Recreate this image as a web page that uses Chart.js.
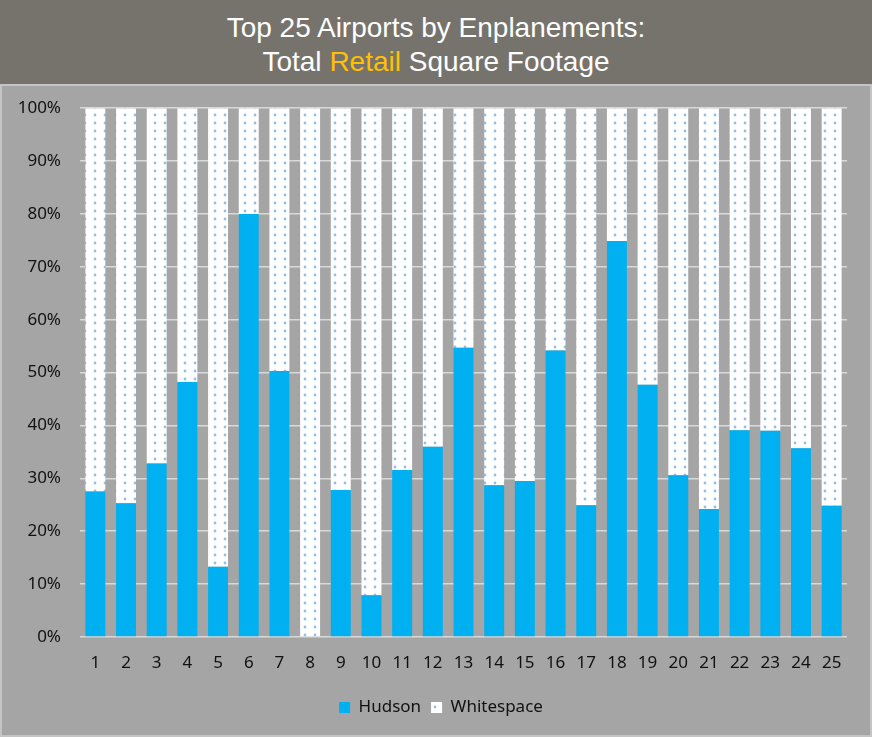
<!DOCTYPE html>
<html>
<head>
<meta charset="utf-8">
<script src="https://cdn.jsdelivr.net/npm/chart.js@4"></script>
<style>
  body { margin: 0; width: 872px; height: 737px; overflow: hidden; font-family: "Liberation Sans", Arial, sans-serif; }
  #header {
    position: absolute; left: 0; top: 0; width: 872px; height: 84px;
    background: #76736d; color: #fff; text-align: center;
    font-size: 28px; line-height: 34px; padding-top: 11px; box-sizing: border-box;
  }
  #header .hl { color: #ffc000; }
  #panel {
    position: absolute; left: 0; top: 84px; width: 872px; height: 653px;
    background: #a5a5a5; border: 2px solid #c4c4c4; box-sizing: border-box;
  }
  #chart { position: absolute; left: 0; top: 79px; }
</style>
</head>
<body>
<div id="header">Top 25 Airports by Enplanements:<br>Total <span class="hl">Retail</span> Square Footage</div>
<div id="panel"></div>
<canvas id="chart" width="872" height="658"></canvas>
<script>
// Airport rank 1..25 and the Hudson share of retail space (percent)
const airports = ['1','2','3','4','5','6','7','8','9','10','11','12','13','14','15','16','17','18','19','20','21','22','23','24','25'];
const hudsonShare = [27.5, 25.3, 32.8, 48.2, 13.3, 80.0, 50.3, 0, 27.8, 7.9, 31.6, 36.0, 54.7, 28.7, 29.5, 54.2, 24.9, 74.9, 47.7, 30.6, 24.2, 39.1, 39.0, 35.7, 24.8];
const whitespaceShare = [72.5, 74.7, 67.2, 51.8, 86.7, 20.0, 49.7, 100, 72.2, 92.1, 68.4, 64.0, 45.3, 71.3, 70.5, 45.8, 75.1, 25.1, 52.3, 69.4, 75.8, 60.9, 61.0, 64.3, 75.2];
const yTicks = [0, 10, 20, 30, 40, 50, 60, 70, 80, 90, 100];

// white fill with small blue dots for the whitespace part
function dotPattern() {
  const c = document.createElement('canvas');
  c.width = 10; c.height = 8;
  const g = c.getContext('2d');
  g.fillStyle = '#ffffff';
  g.fillRect(0, 0, 10, 8);
  g.fillStyle = '#95bfe8';
  g.beginPath();
  g.arc(5, 4, 1.4, 0, Math.PI * 2);
  g.fill();
  return g.createPattern(c, 'repeat');
}

// nudge the legend a little to the right of the canvas centre
const legendShift = {
  id: 'legendShift',
  afterLayout(chart) {
    if (chart.legend) chart.legend.left += 35;
  },
};

const tickFont = { family: '"Noto Sans", sans-serif', size: 17 };

new Chart(document.getElementById('chart'), {
  type: 'bar',
  data: {
    labels: airports,
    datasets: [
      { label: 'Hudson', data: hudsonShare, backgroundColor: '#00b0f0', borderWidth: 0 },
      { label: 'Whitespace', data: whitespaceShare, backgroundColor: dotPattern(), borderWidth: 0 },
    ],
  },
  plugins: [legendShift],
  options: {
    responsive: false,
    animation: false,
    layout: { padding: { top: 19, right: 25, bottom: 11, left: 0 } },
    datasets: { bar: { barPercentage: 0.65, categoryPercentage: 1 } },
    plugins: {
      tooltip: { enabled: false },
      legend: {
        position: 'bottom',
        labels: {
          color: '#111',
          font: tickFont,
          boxWidth: 11,
          boxHeight: 11,
          padding: 10,
        },
      },
    },
    scales: {
      x: {
        stacked: true,
        grid: { display: false, drawTicks: false },
        border: { display: false },
        ticks: { color: '#111', font: tickFont, padding: 16, maxRotation: 0 },
        afterFit: s => { s.height = 52; },
      },
      y: {
        stacked: true,
        min: 0,
        max: 100,
        afterBuildTicks: s => { s.ticks = yTicks.map(v => ({ value: v })); },
        grid: { color: '#d9d9d9', lineWidth: 1.5, drawTicks: false },
        border: { display: false },
        ticks: { color: '#111', font: tickFont, padding: 19, callback: v => v + '%' },
        afterFit: s => { s.width = 80; },
      },
    },
  },
});
</script>
</body>
</html>
